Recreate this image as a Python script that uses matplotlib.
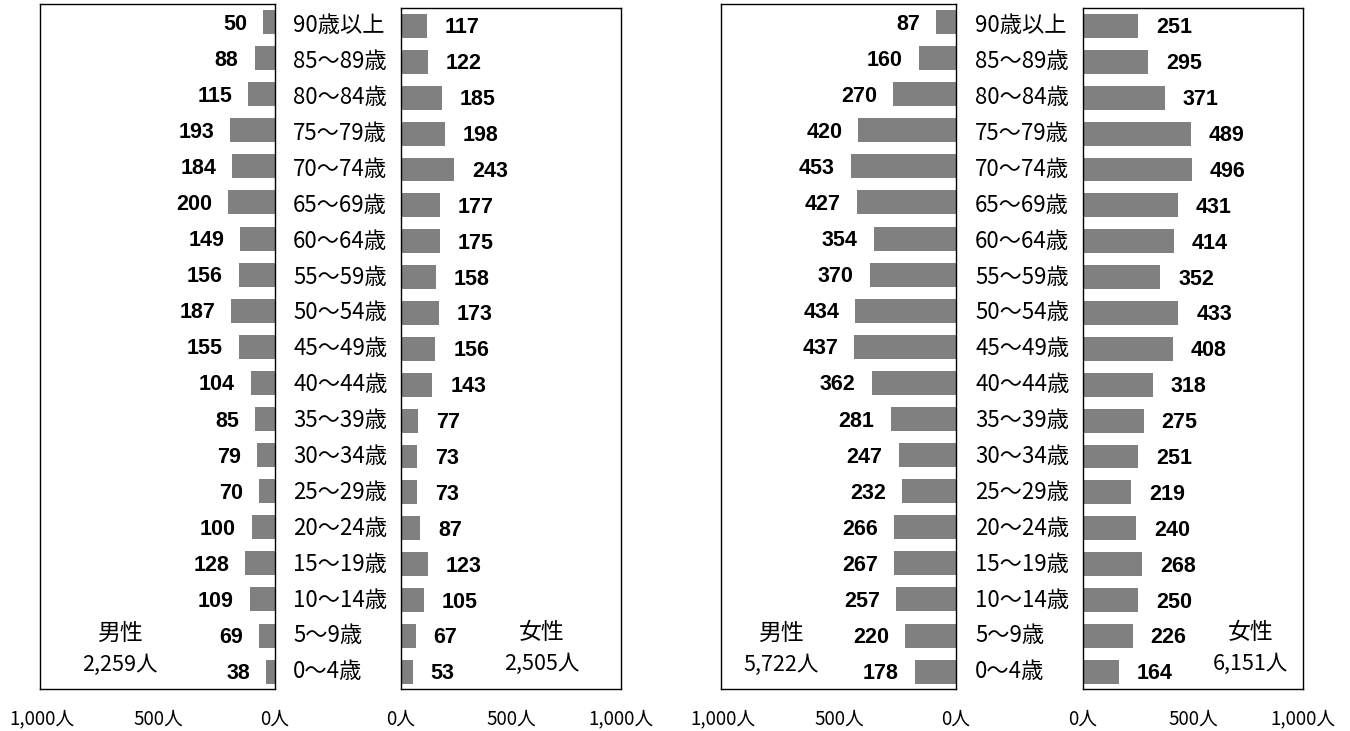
import matplotlib
matplotlib.use("Agg")
import matplotlib.pyplot as plt

ages = ["90歳以上", "85～89歳", "80～84歳", "75～79歳", "70～74歳", "65～69歳",
        "60～64歳", "55～59歳", "50～54歳", "45～49歳", "40～44歳", "35～39歳",
        "30～34歳", "25～29歳", "20～24歳", "15～19歳", "10～14歳", "5～9歳", "0～4歳"]

left_male = [50, 88, 115, 193, 184, 200, 149, 156, 187, 155, 104, 85, 79, 70, 100, 128, 109, 69, 38]
left_female = [117, 122, 185, 198, 243, 177, 175, 158, 173, 156, 143, 77, 73, 73, 87, 123, 105, 67, 53]
right_male = [87, 160, 270, 420, 453, 427, 354, 370, 434, 437, 362, 281, 247, 232, 266, 267, 257, 220, 178]
right_female = [251, 295, 371, 489, 496, 431, 414, 352, 433, 408, 318, 275, 251, 219, 240, 268, 250, 226, 164]

totals = {"lm": "2,259人", "lf": "2,505人", "rm": "5,722人", "rf": "6,151人"}
tick_vals = [0, 500, 1000]
tick_labels = ["0人", "500人", "1,000人"]

JP = ["Noto Sans CJK JP", "DejaVu Sans"]
NUM = ["Liberation Sans", "DejaVu Sans"]
BAR = "#808080"

W, H = 1350, 731
fig = plt.figure(figsize=(W / 100, H / 100), dpi=100)


def add_ax(x0, x1, y0, y1):
    return fig.add_axes([x0 / W, (H - y1) / H, (x1 - x0) / W, (y1 - y0) / H])


def style(ax, xlim):
    ax.set_xlim(*xlim)
    ax.set_ylim(18.48, -0.5)
    ax.set_yticks([])
    ax.set_xticks(tick_vals)
    ax.set_xticklabels(tick_labels, fontfamily=JP, fontsize=13.5)
    ax.tick_params(axis="x", length=0, pad=14)
    for s in ax.spines.values():
        s.set_linewidth(1.0)
        s.set_color("black")


def draw_pyramid(xm0, xm1, xf0, xf1, male, female, tm, tf, mx, fx):
    axm = add_ax(xm0, xm1, 4, 689)
    axf = add_ax(xf0, xf1, 8, 689)
    ys = list(range(len(ages)))
    axm.barh(ys, male, height=0.665, color=BAR)
    axf.barh(ys, female, height=0.665, color=BAR)
    style(axm, (1010, 0))
    style(axf, (0, 1000))
    for i, v in enumerate(male):
        axm.annotate(str(v), xy=(v, i), xytext=(-16, -2), textcoords="offset pixels",
                     ha="right", va="center", fontsize=15.5, fontweight="bold", fontfamily=NUM)
    for i, v in enumerate(female):
        axf.annotate(str(v), xy=(v, i), xytext=(18, -2), textcoords="offset pixels",
                     ha="left", va="center", fontsize=15.5, fontweight="bold", fontfamily=NUM)
    for i, a in enumerate(ages):
        axf.annotate(a, xy=(0, i), xytext=(-108, 0), textcoords="offset pixels",
                     ha="left", va="center", fontsize=16, fontfamily=JP)
    axm.text(mx, 0.081, "男性", transform=axm.transAxes, ha="center", va="center",
             fontsize=16.5, fontfamily=JP)
    axm.text(mx, 0.035, tm, transform=axm.transAxes, ha="center", va="center",
             fontsize=15.5, fontfamily=JP)
    axf.text(fx, 0.083, "女性", transform=axf.transAxes, ha="center", va="center",
             fontsize=16.5, fontfamily=JP)
    axf.text(fx, 0.037, tf, transform=axf.transAxes, ha="center", va="center",
             fontsize=15.5, fontfamily=JP)


draw_pyramid(40, 275, 401, 621, left_male, left_female, totals["lm"], totals["lf"], 0.34, 0.641)
draw_pyramid(721, 956, 1083, 1303, right_male, right_female, totals["rm"], totals["rf"], 0.255, 0.762)

fig.savefig("out.png", dpi=100, facecolor="white")
